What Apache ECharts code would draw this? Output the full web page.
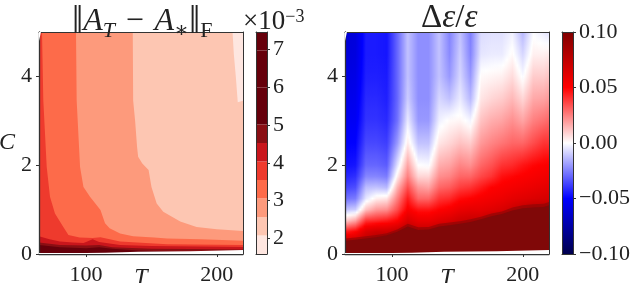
<!DOCTYPE html>
<html><head><meta charset="utf-8">
<style>html,body{margin:0;padding:0;background:#fff}#c{width:640px;height:283px}</style>
<script src="https://cdn.jsdelivr.net/npm/echarts@6/dist/echarts.min.js"></script>
</head><body><div id="c"></div>
<script>
// ---------- shared axis data
const xTicks = [100, 200];
const yTicks = [0, 2, 4];
const Tmin = 64, Tmax = 220, Cmin = 0, Cmax = 5;

// ---------- left panel: contour boundaries (T, C) of each filled level
const bandColors = ['#FEE6E0','#FDC6B2','#FD9A7C','#FD6B4A','#EE3A2D','#C9161C','#8A0F14','#66000B'];
const b1T = [64,220];                      const b1C = [5,5];
const b2T = [64,212,213,214.5,216,220];    const b2C = [5,5,4.5,4,3.42,3.45];
const b3T = [64,135.7,136,137.5,139,139.8,143,147.8,150,154,159,172,184.5,200,220];
const b3C = [5,5,3.46,3,2.41,2.19,2.04,1.89,1.51,1.14,.95,.73,.61,.56,.52];
const b4T = [64,92.3,92.8,95.4,98,103,111,114.5,118,126,136,152,162,188,220];
const b4C = [5,5,3.46,1.96,1.51,1.29,.99,.69,.58,.46,.40,.37,.35,.33,.30];
const b5T = [64,66.3,67.3,69.9,72.4,76.2,82.6,86.5,95,105,111,126,162,220];
const b5C = [5,5,3.46,1.96,1.29,.91,.61,.43,.37,.36,.38,.28,.22,.20];
const b6T = [64,72,80,90,98,100,105,110,126,150,220];
const b6C = [.40,.33,.28,.26,.25,.27,.33,.27,.2,.18,.16];
const b7T = [64,80,100,110,120,150,180,220];
const b7C = [.26,.2,.19,.2,.15,.12,.11,.1];
const b8T = [64,80,100,110,120,140,170,190];
const b8C = [.2,.15,.13,.15,.12,.08,.05,.04];
const leftBands = [[b1T,b1C],[b2T,b2C],[b3T,b3C],[b4T,b4C],[b5T,b5C],[b6T,b6C],[b7T,b7C],[b8T,b8C]];

// blank strip along the bottom, blank notch in the top-left corner
const gapT = [64,100,115,140,180,220];
const gapC = [.02,.02,.03,.05,.06,.09];
const cornerT = [64,65.5];
const cornerC = [4.8,5];

// ---------- left colour bar
const cbLeftLevels = [1.585,2.075,2.565,3.055,3.545,4.035,4.525,5.015,5.505,5.995,6.485,6.975,7.465];
const cbLeftTicks = [2,3,4,5,6,7];

// ---------- right panel: value at each C row for each T column
const colT = [64,72,80,88,96,104,112,120,128,136,144,152,160,168,176,184,192,200,208,216,220];
const rowC = [0,.25,.5,.75,1,1.25,1.5,1.75,2,2.5,3,3.5,4,4.5,5];
const d064 = [.1,.075,.045,.01,-.012,-.028,-.037,-.043,-.047,-.05,-.053,-.056,-.058,-.06,-.062];
const d072 = [.1,.075,.05,.018,-.01,-.026,-.035,-.041,-.046,-.05,-.053,-.055,-.057,-.059,-.06];
const d080 = [.1,.08,.065,.04,.012,-.005,-.013,-.024,-.03,-.036,-.04,-.042,-.044,-.045,-.045];
const d088 = [.1,.085,.07,.042,.02,.003,-.012,-.024,-.03,-.036,-.04,-.042,-.044,-.045,-.045];
const d096 = [.1,.09,.07,.045,.022,.005,-.014,-.026,-.032,-.038,-.042,-.044,-.045,-.046,-.046];
const d104 = [.1,.1,.075,.05,.035,.025,.015,.003,-.006,-.02,-.028,-.03,-.03,-.03,-.03];
const d112 = [.1,.1,.08,.065,.052,.045,.035,.025,.018,.004,-.004,-.01,-.012,-.012,-.012];
const d120 = [.1,.1,.075,.058,.046,.03,.02,.008,0,-.012,-.02,-.022,-.022,-.022,-.022];
const d128 = [.1,.1,.075,.058,.046,.03,.018,.008,-.001,-.012,-.02,-.022,-.022,-.022,-.022];
const d136 = [.1,.1,.08,.062,.05,.04,.03,.022,.016,.005,-.003,-.008,-.012,-.012,-.012];
const d144 = [.1,.1,.085,.065,.053,.042,.032,.024,.018,.008,.001,-.012,-.02,-.023,-.024];
const d152 = [.1,.1,.09,.07,.058,.048,.038,.03,.024,.012,.002,-.004,-.008,-.01,-.012];
const d160 = [.1,.1,.09,.072,.06,.05,.04,.03,.022,.01,-.002,-.014,-.02,-.024,-.025];
const d168 = [.1,.1,.095,.072,.06,.053,.045,.036,.03,.02,.012,.005,.001,-.005,-.007];
const d176 = [.1,.1,.1,.08,.062,.055,.05,.04,.034,.024,.016,.008,.002,-.004,-.006];
const d184 = [.1,.1,.1,.085,.065,.057,.052,.047,.04,.027,.018,.01,.003,-.004,-.006];
const d192 = [.1,.1,.1,.09,.07,.06,.054,.049,.042,.03,.022,.014,.007,.001,-.003];
const d200 = [.1,.1,.1,.09,.075,.062,.056,.051,.046,.03,.018,.008,-.001,-.008,-.014];
const d208 = [.1,.1,.1,.09,.08,.064,.058,.053,.049,.035,.025,.017,.01,.003,-.001];
const d216 = [.1,.1,.1,.09,.08,.066,.06,.055,.051,.04,.028,.018,.01,.003,-.004];
const d220 = [.1,.1,.1,.09,.08,.067,.061,.056,.052,.04,.03,.02,.012,.004,-.006];
const deltaColumns = [d064,d072,d080,d088,d096,d104,d112,d120,d128,d136,d144,d152,d160,d168,d176,d184,d192,d200,d208,d216,d220];
// edge of the saturated (dark) region at each T column, and its blurred outer rim
const darkC = [.3,.32,.35,.38,.42,.5,.62,.54,.55,.62,.65,.68,.72,.78,.85,.9,.98,1.03,1.05,1.06,1.1];
const darkRimC = [.35,.37,.4,.43,.47,.55,.68,.6,.61,.68,.71,.74,.78,.84,.91,.96,1.05,1.1,1.12,1.13,1.17];

// ---------- diverging colour map and right colour bar
const mapV = [-.1,-.05,0,.05,.1];
const mapRGB = [[0,0,77],[0,0,255],[255,255,255],[255,0,0],[128,0,0]];
const cbRightTicks = [-.1,-.05,0,.05,.1];
const darkColor = '#800808';
const darkRimColor = 'rgba(128,8,8,0.55)';

function colorOf(v){
  v = Math.max(-.1, Math.min(.1, v));
  let i = 0;
  while (i < mapV.length - 2 && v > mapV[i+1]) i++;
  const f = (v - mapV[i]) / (mapV[i+1] - mapV[i]);
  const c = mapRGB[i].map((a,k)=>Math.round(a + (mapRGB[i+1][k]-a)*f));
  return 'rgb('+c.join(',')+')';
}

const INK = '#333';
const serif = '"Liberation Serif","DejaVu Serif",serif';
const labelStyle = {fontFamily: serif, fontSize: 22, color: '#222'};

const layout = [
  {left:39,  top:32, width:204, height:222, outerBoundsMode:'none'},
  {left:256, top:32, width:11,  height:222, outerBoundsMode:'none'},
  {left:345, top:32, width:204, height:222, outerBoundsMode:'none'},
  {left:562, top:32, width:11,  height:222, outerBoundsMode:'none'}
];

function mainX(g, name){
  return {type:'value', gridIndex:g, min:Tmin, max:Tmax, z:10,
    name:name, nameLocation:'middle', nameGap:12, nameMoveOverlap:false,
    nameTextStyle:{fontFamily:serif, fontSize:24, fontStyle:'italic', color:'#222'},
    axisLine:{show:true, onZero:false, lineStyle:{color:INK, width:1.3}},
    axisTick:{show:true, length:3, customValues:xTicks, lineStyle:{color:INK}},
    axisLabel:{show:true, margin:10, customValues:xTicks, ...labelStyle},
    splitLine:{show:false}};
}
function mainY(g, name){
  return {type:'value', gridIndex:g, min:Cmin, max:Cmax, z:10,
    name:name, nameLocation:'middle', nameGap:24, nameRotate:0, nameMoveOverlap:false,
    nameTextStyle:{fontFamily:serif, fontSize:24, fontStyle:'italic', color:'#222'},
    axisLine:{show:true, onZero:false, lineStyle:{color:INK, width:1.3}},
    axisTick:{show:true, length:3, customValues:yTicks, lineStyle:{color:INK}},
    axisLabel:{show:true, margin:7, customValues:yTicks, ...labelStyle},
    splitLine:{show:false}};
}
function frameX(g, min, max, pos){
  return {type:'value', gridIndex:g, position:pos, min, max, z:10,
    axisLine:{show:true, onZero:false, lineStyle:{color:INK, width:1}},
    axisTick:{show:false}, axisLabel:{show:false}, splitLine:{show:false}};
}
function frameY(g, min, max, pos){
  return {type:'value', gridIndex:g, position:pos, min, max, z:10,
    axisLine:{show:true, onZero:false, lineStyle:{color:INK, width:1}},
    axisTick:{show:false}, axisLabel:{show:false}, splitLine:{show:false}};
}
function barY(g, min, max, ticks, fmt){
  return {type:'value', gridIndex:g, position:'right', min, max, z:10,
    axisLine:{show:true, onZero:false, lineStyle:{color:INK, width:1}},
    axisTick:{show:true, length:3, customValues:ticks, lineStyle:{color:INK}},
    axisLabel:{show:true, margin:6, customValues:ticks, formatter:fmt, ...labelStyle},
    splitLine:{show:false}};
}

const xAxis = [
  mainX(0,'T'), frameX(0,Tmin,Tmax,'top'),
  frameX(1,0,1,'bottom'), frameX(1,0,1,'top'),
  mainX(2,'T'), frameX(2,Tmin,Tmax,'top'),
  frameX(3,0,1,'bottom'), frameX(3,0,1,'top')
];
const yAxis = [
  mainY(0,'C'), frameY(0,Cmin,Cmax,'right'),
  barY(1,cbLeftLevels[0],cbLeftLevels[12],cbLeftTicks,v=>String(v)), frameY(1,cbLeftLevels[0],cbLeftLevels[12],'left'),
  mainY(2,''), frameY(2,Cmin,Cmax,'right'),
  barY(3,-.1,.1,cbRightTicks,v=>(v<0?'\u2212':'')+Math.abs(v).toFixed(2)), frameY(3,-.1,.1,'left')
];

function area(xi, yi, T, C, color, z, origin){
  return {type:'line', xAxisIndex:xi, yAxisIndex:yi, data:T.map((t,i)=>[t,C[i]]),
    showSymbol:false, symbol:'none', silent:true, z, clip:true, animation:false,
    lineStyle:{width:0}, areaStyle:{color, opacity:1, origin:origin||'start'}};
}

function renderShade(params, api){
  const i = api.value(2);
  const a = deltaColumns[i], b = deltaColumns[i+1];
  const top = api.coord([api.value(0), Cmax]);
  const right = api.coord([api.value(1), Cmin]);
  const x0 = Math.round(top[0]), x1 = Math.round(right[0]);
  const children = [];
  for (let x = x0; x < x1; x++){
    const f = (x + .5 - top[0]) / (right[0] - top[0]);
    const stops = [];
    for (let r = rowC.length - 1; r >= 0; r--){
      const v = a[r] + (b[r]-a[r])*f;
      stops.push({offset:(Cmax-rowC[r])/(Cmax-Cmin), color:colorOf(v)});
      if (r > 0){
        const v2 = a[r-1] + (b[r-1]-a[r-1])*f;
        for (let s = 1; s < 4; s++){
          const c = rowC[r] + (rowC[r-1]-rowC[r])*s/4;
          stops.push({offset:(Cmax-c)/(Cmax-Cmin), color:colorOf(v+(v2-v)*s/4)});
        }
      }
    }
    children.push({type:'rect', shape:{x, y:top[1], width:x+1<x1?1.5:1, height:right[1]-top[1]},
      style:{fill:new echarts.graphic.LinearGradient(0,0,0,1,stops)}});
  }
  return {type:'group', children};
}
function renderBandBar(params, api){
  const p0 = api.coord([0, api.value(1)]), p1 = api.coord([1, api.value(0)]);
  return {type:'rect', shape:{x:p0[0], y:p0[1], width:p1[0]-p0[0], height:p1[1]-p0[1]},
    style:{fill:api.value(2) < bandColors.length ? bandColors[api.value(2)] : bandColors[bandColors.length-1]}};
}
function renderGradientBar(params, api){
  const p0 = api.coord([0, api.value(1)]), p1 = api.coord([1, api.value(0)]);
  const stops = mapV.map((v)=>({offset:(.1-v)/.2, color:colorOf(v)}));
  return {type:'rect', shape:{x:p0[0], y:p0[1], width:p1[0]-p0[0], height:p1[1]-p0[1]},
    style:{fill:new echarts.graphic.LinearGradient(0,0,0,1,stops)}};
}

const series = [];
leftBands.forEach((b,i)=>series.push(area(0,0,b[0],b[1],bandColors[i],2+i)));
series.push(area(0,0,gapT,gapC,'#fff',12));
series.push(area(0,0,cornerT,cornerC,'#fff',12,'end'));
series.push({type:'custom', xAxisIndex:4, yAxisIndex:4, z:2, silent:true, animation:false,
  renderItem:renderShade, encode:{x:[0,1]}, clip:true,
  data:colT.slice(0,-1).map((t,i)=>[t,colT[i+1],i])});
series.push(area(4,4,colT,darkRimC,darkRimColor,7));
series.push(area(4,4,colT,darkC,darkColor,8));
series.push(area(4,4,gapT,gapC,'#fff',12));
series.push(area(4,4,cornerT,cornerC,'#fff',12,'end'));
series.push({type:'custom', xAxisIndex:2, yAxisIndex:2, z:2, silent:true, animation:false,
  renderItem:renderBandBar, encode:{y:[0,1]},
  data:cbLeftLevels.slice(0,-1).map((l,i)=>[l,cbLeftLevels[i+1],i])});
series.push({type:'custom', xAxisIndex:6, yAxisIndex:6, z:2, silent:true, animation:false,
  renderItem:renderGradientBar, encode:{y:[0,1]},
  data:[[cbRightTicks[0],cbRightTicks[4]]]});

const W = {fontWeight:'normal', fontFamily:serif, color:'#222'};
const math = {
  bar:{...W, fontSize:40},
  a:{...W, fontSize:32, fontStyle:'italic'},
  n:{...W, fontSize:32},
  sub:{...W, fontSize:22, fontStyle:'italic', verticalAlign:'bottom'},
  subr:{...W, fontSize:22, verticalAlign:'bottom'},
  sup:{...W, fontSize:18, verticalAlign:'top'},
  m:{...W, fontSize:27},
  d:{...W, fontSize:33},
  e:{...W, fontSize:33, fontStyle:'italic'}
};

const title = [
  {text:'{bar|\u2016}{a|A}{sub|T}{n|\u2004\u2212\u2004}{a|A}{sub|\u2217}{bar|\u2016}{subr|F}',
   left:67, top:-3, z:20, textStyle:{fontWeight:'normal', rich:math}},
  {text:'{m|\u00d710}{sup|\u22123}', left:238, top:3, z:20, textStyle:{fontWeight:'normal', rich:math}},
  {text:'{d|\u0394}{e|\u03b5}{d|/}{e|\u03b5}', left:416, top:-3, z:20, textStyle:{fontWeight:'normal', rich:math}}
];

const chart = echarts.init(document.getElementById('c'), null, {renderer:'canvas'});
chart.setOption({animation:false, backgroundColor:'#fff', title, grid:layout, xAxis, yAxis, series});
</script>
</body></html>
